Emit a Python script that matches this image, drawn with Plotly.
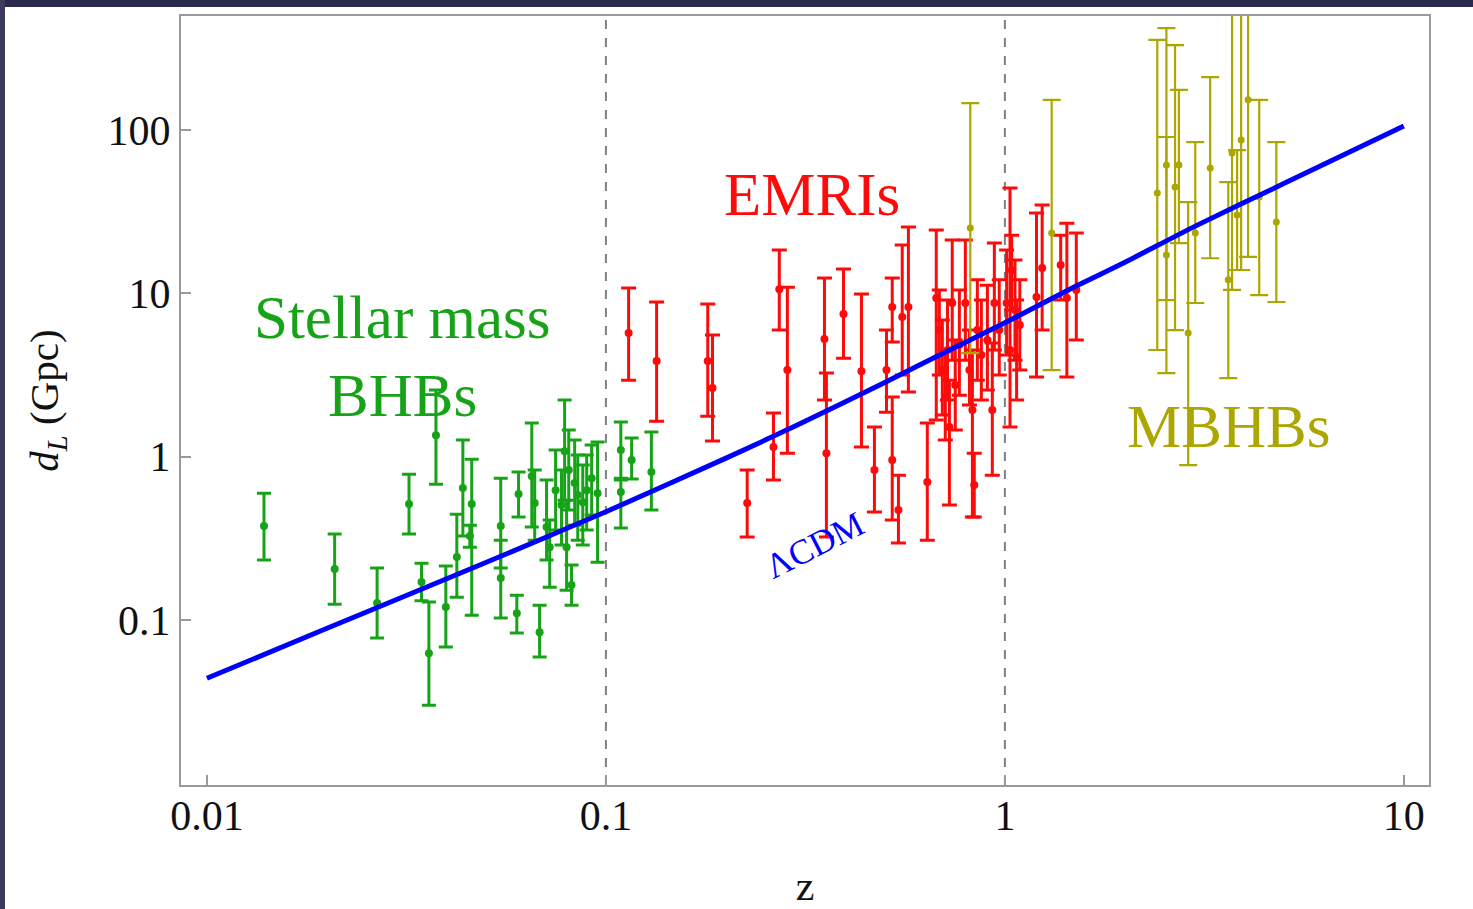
import math
import plotly.graph_objects as go

# ---------------- data ----------------
# Stellar-mass BHBs: redshift, d_L (Gpc), upper end and lower end of error bar
bhb_z = [0.0139, 0.0209, 0.0267, 0.0321, 0.0375, 0.0345, 0.0360, 0.0397, 0.0423, 0.0438,
         0.0461, 0.0456, 0.0545, 0.0545, 0.0598, 0.0604, 0.0682, 0.0652, 0.0663, 0.0710,
         0.0723, 0.0748, 0.0774, 0.0788, 0.0797, 0.0807, 0.0820, 0.0835, 0.0850, 0.0875,
         0.0895, 0.0921, 0.0953, 0.109, 0.109, 0.116, 0.130]
bhb_d = [0.376, 0.205, 0.127, 0.513, 1.355, 0.171, 0.0627, 0.120, 0.243, 0.643,
         0.513, 0.327, 0.376, 0.181, 0.110, 0.590, 0.0843, 0.760, 0.520, 0.371,
         0.279, 0.624, 0.506, 1.081, 0.279, 0.828, 0.164, 0.689, 0.582, 0.527,
         0.624, 0.739, 0.598, 1.097, 0.607, 0.953, 0.805]
bhb_hi = [0.598, 0.336, 0.208, 0.782, 2.56, 0.223, 0.129, 0.214, 0.445, 1.264,
          0.966, 0.381, 0.739, 0.308, 0.142, 0.805, 0.123, 1.607, 0.828, 0.719,
          0.409, 1.097, 0.828, 2.22, 0.542, 1.455, 0.217, 1.264, 1.023, 0.889,
          1.023, 1.178, 1.228, 1.629, 0.739, 1.30, 1.415]
bhb_lo = [0.233, 0.125, 0.0775, 0.336, 0.679, 0.131, 0.0301, 0.0683, 0.138, 0.327,
          0.107, 0.279, 0.208, 0.103, 0.0832, 0.427, 0.0593, 0.371, 0.308, 0.233,
          0.159, 0.356, 0.288, 0.542, 0.152, 0.471, 0.123, 0.381, 0.308, 0.288,
          0.356, 0.439, 0.226, 0.719, 0.366, 0.729, 0.471]

# EMRIs
emri_z = [0.114, 0.134, 0.180, 0.185, 0.226, 0.263, 0.272, 0.285, 0.353, 0.357,
          0.394, 0.437, 0.471, 0.505, 0.522, 0.522, 0.541, 0.553, 0.573, 0.639,
          0.673, 0.685, 0.697, 0.709, 0.718, 0.726, 0.738, 0.751, 0.769, 0.796,
          0.815, 0.829, 0.838, 0.853, 0.873, 0.904, 0.930, 0.941, 0.968, 1.01,
          1.03, 1.04, 1.06, 1.07, 1.09, 1.20, 1.24, 1.38, 1.43, 1.51]
emri_d = [5.71, 3.85, 3.85, 2.63, 0.520, 1.145, 10.6, 3.39, 5.25, 1.05,
          7.47, 3.34, 0.828, 3.39, 8.24, 0.953, 0.471, 7.16, 8.24, 0.699,
          9.36, 5.96, 3.39, 2.32, 4.50, 1.52, 8.73, 2.75, 4.82, 8.73,
          3.39, 1.93, 0.670, 5.96, 4.19, 5.18, 1.93, 8.73, 5.96, 8.73,
          4.50, 13.9, 7.90, 4.07, 6.39, 9.49, 14.3, 14.9, 9.36, 10.5]
emri_hi = [10.8, 8.85, 8.60, 5.55, 0.828, 1.85, 18.4, 10.9, 12.4, 3.25,
           14.1, 9.9, 1.52, 5.96, 12.4, 2.32, 0.771, 19.8, 25.5, 1.607,
           24.4, 10.5, 6.86, 4.50, 9.09, 2.94, 21.2, 5.18, 10.5, 21.2,
           5.96, 4.50, 1.05, 12.1, 9.09, 11.2, 4.96, 20.3, 12.1, 18.4,
           44.2, 22.7, 16.0, 9.09, 12.1, 31.0, 34.7, 22.7, 26.9, 23.4]
emri_lo = [2.94, 1.65, 1.77, 1.246, 0.322, 0.719, 5.96, 1.05, 2.22, 0.322,
           4.01, 1.145, 0.458, 1.87, 5.03, 0.409, 0.296, 3.16, 2.49, 0.308,
           1.68, 3.16, 1.80, 1.264, 2.22, 0.506, 3.90, 1.455, 2.38, 3.90,
           2.07, 0.427, 0.427, 2.94, 2.22, 2.56, 0.771, 4.50, 3.16, 4.19,
           1.52, 7.90, 3.90, 2.22, 3.39, 3.07, 5.96, 9.09, 3.07, 5.18]

# MBHBs
mbhb_z = [0.819, 1.31, 2.41, 2.54, 2.54, 2.67, 2.73, 2.88, 3.00, 3.27,
          3.63, 3.71, 3.82, 3.91, 4.07, 4.34, 4.79]
mbhb_d = [25.1, 23.4, 41.1, 61.1, 17.2, 44.8, 61.1, 5.71, 23.4, 58.5,
          12.1, 72.3, 30.2, 86.8, 153, 38.9, 27.3]
mbhb_hi = [146, 153, 356, 421, 90.6, 331, 176, 36.2, 84.4, 211,
           48.0, 800, 75.4, 900, 1000, 153, 84.4]
mbhb_lo = [4.31, 3.39, 4.50, 9.09, 3.25, 5.96, 20.3, 0.888, 8.73, 16.4,
           3.03, 10.5, 13.9, 13.9, 16.7, 9.76, 8.85]

# LambdaCDM luminosity distance curve
lcdm_z = [0.01, 0.02, 0.03, 0.05, 0.1, 0.2, 0.3, 0.5, 0.7, 1.0, 1.5, 2.0, 3.0, 5.0, 10.0]
lcdm_d = [0.044, 0.089, 0.134, 0.225, 0.46, 0.98, 1.55, 2.85, 4.3, 6.6, 11.0, 15.5, 25.8, 47.0, 106.0]

x_ticks = [0.01, 0.1, 1, 10]
x_ticktext = ["0.01", "0.1", "1", "10"]
y_ticks = [0.1, 1, 10, 100]
y_ticktext = ["0.1", "1", "10", "100"]
divider_z = [0.1, 1]

# ---------------- styling ----------------
W, H = 1473, 909
ML, MR, MT, MB = 181, 44, 16, 124
SERIF = "Liberation Serif"
GREEN = "#17a317"
RED = "#ff0a0a"
OLIVE = "#aca700"
BLUE = "#0000ff"
FRAME = "#9a9a9a"
INK = "#111111"


def errs(d, hi, lo):
    return [h - v for v, h in zip(d, hi)], [v - l for v, l in zip(d, lo)]


fig = go.Figure()

for zs, ds, his, los, col, msize, cap, thick in [
    (bhb_z, bhb_d, bhb_hi, bhb_lo, GREEN, 8, 7, 3.0),
    (emri_z, emri_d, emri_hi, emri_lo, RED, 8, 7.5, 3.0),
    (mbhb_z, mbhb_d, mbhb_hi, mbhb_lo, OLIVE, 7, 9, 2.2),
]:
    up, dn = errs(ds, his, los)
    fig.add_trace(go.Scatter(
        x=zs, y=ds, mode="markers",
        marker=dict(color=col, size=msize),
        error_y=dict(type="data", symmetric=False, array=up, arrayminus=dn,
                     color=col, thickness=thick, width=cap),
        showlegend=False, hoverinfo="skip"))

fig.add_trace(go.Scatter(x=lcdm_z, y=lcdm_d, mode="lines",
                         line=dict(color=BLUE, width=5, shape="spline", smoothing=0.6),
                         showlegend=False, hoverinfo="skip"))

for zv in divider_z:
    fig.add_shape(type="line", xref="x", yref="paper", x0=zv, x1=zv, y0=0, y1=1,
                  line=dict(color="#808080", width=2, dash="dash"), layer="below")


# dark frame bands around the picture
def px_x(p):
    return (p - ML) / (W - ML - MR)


def px_y(p):
    return (H - MB - p) / (H - MT - MB)


fig.add_shape(type="rect", xref="paper", yref="paper",
              x0=px_x(0), x1=px_x(W), y0=px_y(7), y1=px_y(0),
              fillcolor="#2b2a4c", line=dict(width=0))
fig.add_shape(type="rect", xref="paper", yref="paper",
              x0=px_x(0), x1=px_x(5), y0=px_y(H), y1=px_y(0),
              fillcolor="#3c3b5e", line=dict(width=0))

labels = [
    ("Stellar mass", 0.0308, 7.16, GREEN, 61, 0),
    ("BHBs", 0.0310, 2.38, GREEN, 61, 0),
    ("EMRIs", 0.329, 40.5, RED, 61, 0),
    ("MBHBs", 3.63, 1.52, OLIVE, 61, 0),
    ("ΛCDM", 0.333, 0.287, BLUE, 35, -27),
]
for txt, xv, yv, col, fs, ang in labels:
    fig.add_annotation(x=math.log10(xv), y=math.log10(yv), xref="x", yref="y",
                       text=txt, showarrow=False, textangle=ang,
                       font=dict(family=SERIF, size=fs, color=col),
                       xanchor="center", yanchor="middle")

axis_common = dict(type="log", showgrid=False, zeroline=False, showline=True,
                   linecolor=FRAME, linewidth=2, mirror=True,
                   ticks="inside", ticklen=10, tickwidth=1.5, tickcolor=FRAME,
                   tickfont=dict(family=SERIF, size=42, color=INK))

fig.update_xaxes(range=[-2.065, 1.063], tickvals=x_ticks, ticktext=x_ticktext,
                 ticklabelstandoff=-7,
                 title=dict(text="z", font=dict(family=SERIF, size=42, color=INK),
                            standoff=32),
                 **axis_common)
fig.update_yaxes(range=[-2.01, 2.698], tickvals=y_ticks, ticktext=y_ticktext,
                 title=dict(text="<i>d</i><sub><i>L</i></sub> (Gpc)",
                            font=dict(family=SERIF, size=41, color=INK),
                            standoff=36),
                 **axis_common)

fig.update_layout(width=W, height=H, autosize=False,
                  margin=dict(l=ML, r=MR, t=MT, b=MB, autoexpand=False),
                  paper_bgcolor="white", plot_bgcolor="white")

fig.write_html("out.html")
